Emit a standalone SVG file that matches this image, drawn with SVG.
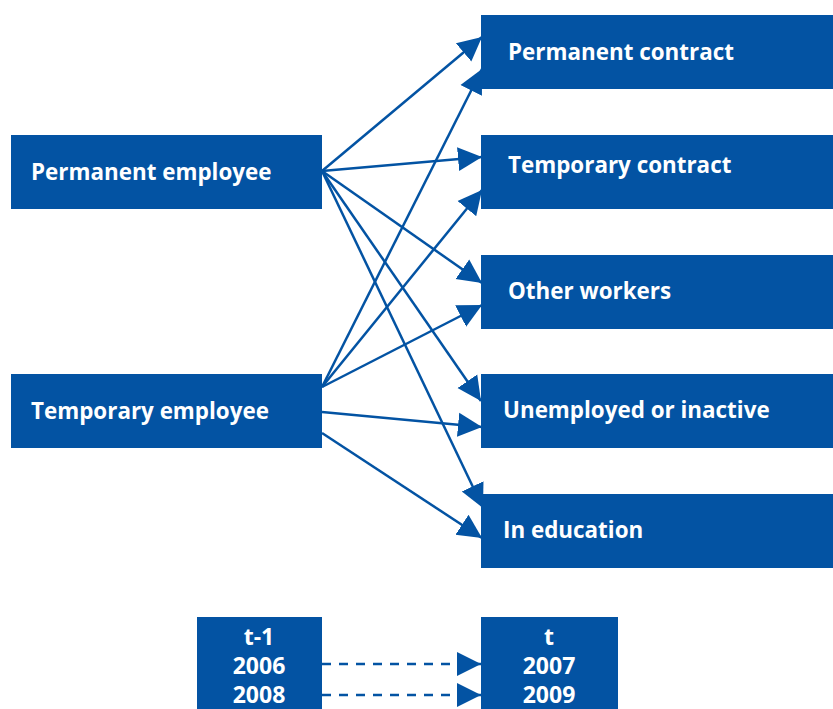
<svg xmlns="http://www.w3.org/2000/svg" width="833" height="709" viewBox="0 0 833 709">
<defs>
<style>
.box{fill:#0353a3}
.lbl{font-family:"Open Sans","Liberation Sans",sans-serif;font-weight:bold;font-size:22.4px;fill:#fff}
.yr{font-family:"Open Sans","Liberation Sans",sans-serif;font-weight:bold;font-size:23px;fill:#fff;text-anchor:middle}
.c{stroke:#0353a3;stroke-width:2.5;fill:none;marker-end:url(#ah)}
.d{stroke:#0353a3;stroke-width:2.5;fill:none;stroke-dasharray:9 8;marker-end:url(#ah)}
</style>
<marker id="ah" markerUnits="userSpaceOnUse" markerWidth="26" markerHeight="26" viewBox="0 0 26 26" refX="24" refY="13" orient="auto">
<path d="M0,1 L24,13 L0,25 Z" fill="#0353a3"/>
</marker>
</defs>
<rect width="833" height="709" fill="#fff"/>
<g id="connectors">
<line class="c" x1="322" y1="171" x2="482" y2="37"/>
<line class="c" x1="322" y1="171" x2="482" y2="157"/>
<line class="c" x1="322" y1="171" x2="482" y2="283"/>
<line class="c" x1="322" y1="171" x2="481" y2="401"/>
<line class="c" x1="322" y1="171" x2="483" y2="508"/>
<line class="c" x1="322" y1="387" x2="482" y2="69"/>
<line class="c" x1="322" y1="387" x2="482" y2="190"/>
<line class="c" x1="322" y1="387" x2="482" y2="305"/>
<line class="c" x1="322" y1="412" x2="482" y2="427"/>
<line class="c" x1="322" y1="433" x2="482" y2="538"/>
<line class="d" x1="322" y1="664" x2="481" y2="664"/>
<line class="d" x1="322" y1="695" x2="481" y2="695"/>
</g>
<g id="perm-employee"><rect class="box" x="11" y="135" width="311" height="74"/><text class="lbl" x="31" y="180">Permanent employee</text></g>
<g id="temp-employee"><rect class="box" x="11" y="374" width="311" height="74"/><text class="lbl" x="31" y="419">Temporary employee</text></g>
<g id="perm-contract"><rect class="box" x="481" y="15" width="352" height="74"/><text class="lbl" x="508" y="60">Permanent contract</text></g>
<g id="temp-contract"><rect class="box" x="481" y="135" width="352" height="74"/><text class="lbl" x="508" y="173">Temporary contract</text></g>
<g id="other-workers"><rect class="box" x="481" y="255" width="352" height="74"/><text class="lbl" x="508" y="299">Other workers</text></g>
<g id="unemployed"><rect class="box" x="481" y="374" width="352" height="74"/><text class="lbl" x="503" y="418">Unemployed or inactive</text></g>
<g id="education"><rect class="box" x="481" y="494" width="352" height="74"/><text class="lbl" x="503" y="538">In education</text></g>
<g id="t-minus-1"><rect class="box" x="197" y="617" width="125" height="92"/><text class="yr" x="259" y="645">t-1</text><text class="yr" x="259" y="674">2006</text><text class="yr" x="259" y="703">2008</text></g>
<g id="t"><rect class="box" x="481" y="617" width="137" height="92"/><text class="yr" x="549" y="645">t</text><text class="yr" x="549" y="674">2007</text><text class="yr" x="549" y="703">2009</text></g>
</svg>
